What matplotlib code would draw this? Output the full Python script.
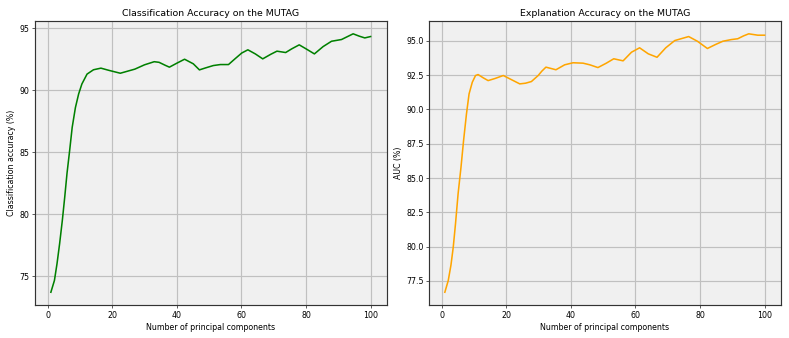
import matplotlib
matplotlib.use("Agg")
import matplotlib.pyplot as plt

# classification accuracy (left panel)
cls_x = [1, 2.1, 2.9, 3.7, 4.55, 5.3, 6.0, 6.8, 7.6, 8.6, 9.6, 10.6, 12.2, 14.2,
         16.5, 19, 22.5, 27, 30, 33, 34.5, 36.5, 37.7, 40, 42.4, 45.1, 47, 48.9,
         51.3, 53.5, 56, 58, 60.1, 62, 64.3, 66.6, 69.1, 71, 73.7, 75.6, 77.9,
         80, 82.6, 85.3, 87.9, 91, 94.6, 96.5, 98.2, 100]
cls_acc = [73.7, 74.65, 76.0, 77.6, 79.5, 81.4, 83.3, 85.1, 87.0, 88.6, 89.7,
           90.5, 91.3, 91.65, 91.78, 91.6, 91.37, 91.7, 92.05, 92.3, 92.25,
           92.0, 91.86, 92.18, 92.5, 92.13, 91.64, 91.8, 91.99, 92.07, 92.07,
           92.53, 93.0, 93.26, 92.93, 92.53, 92.9, 93.15, 93.04, 93.34, 93.66,
           93.34, 92.93, 93.52, 93.95, 94.09, 94.55, 94.36, 94.22, 94.33]

# explanation AUC (right panel)
exp_x = [1.0, 2.05, 2.9, 3.6, 4.3, 5.1, 6.0, 6.8, 7.7, 8.5, 9.5, 10.5, 11.3,
         12.9, 14.4, 16.5, 19.1, 21.1, 24.2, 26.0, 27.8, 29.9, 31.0, 32.3,
         35.4, 38.1, 40.7, 43.8, 45.9, 48.4, 51.0, 53.3, 56.2, 58.8, 61.3,
         64.0, 66.7, 69.4, 72.2, 76.5, 79.2, 82.3, 84.8, 87.1, 89.7, 91.7,
         93.5, 95.1, 97.9, 100]
exp_auc = [76.67, 77.52, 78.66, 79.95, 81.66, 83.84, 85.78, 87.73, 89.68, 91.13,
           91.98, 92.47, 92.54, 92.3, 92.1, 92.25, 92.47, 92.23, 91.86, 91.91,
           92.03, 92.47, 92.78, 93.08, 92.89, 93.25, 93.4, 93.37, 93.25, 93.05,
           93.37, 93.69, 93.54, 94.17, 94.49, 94.05, 93.8, 94.49, 95.02, 95.31,
           94.97, 94.44, 94.73, 94.97, 95.09, 95.15, 95.36, 95.51, 95.41, 95.41]

fig, (ax1, ax2) = plt.subplots(1, 2, figsize=(14, 6))

panels = [
    (ax1, cls_x, cls_acc, 'green', 'Classification Accuracy on the MUTAG',
     'Classification accuracy (%)'),
    (ax2, exp_x, exp_auc, 'orange', 'Explanation Accuracy on the MUTAG',
     'AUC (%)'),
]

for ax, x, y, c, title, ylabel in panels:
    ax.plot(x, y, color=c, linewidth=2)
    ax.set_facecolor('#f0f0f0')
    ax.grid(True, color='#c0c0c0', linewidth=1.5)
    ax.set_axisbelow(True)
    ax.set_title(title, fontsize=12)
    ax.set_xlabel('Number of principal components')
    ax.set_ylabel(ylabel)
    for s in ax.spines.values():
        s.set_color('#333333')
        s.set_linewidth(1.5)

plt.tight_layout()
plt.savefig('out.png', dpi=789 / 14)
